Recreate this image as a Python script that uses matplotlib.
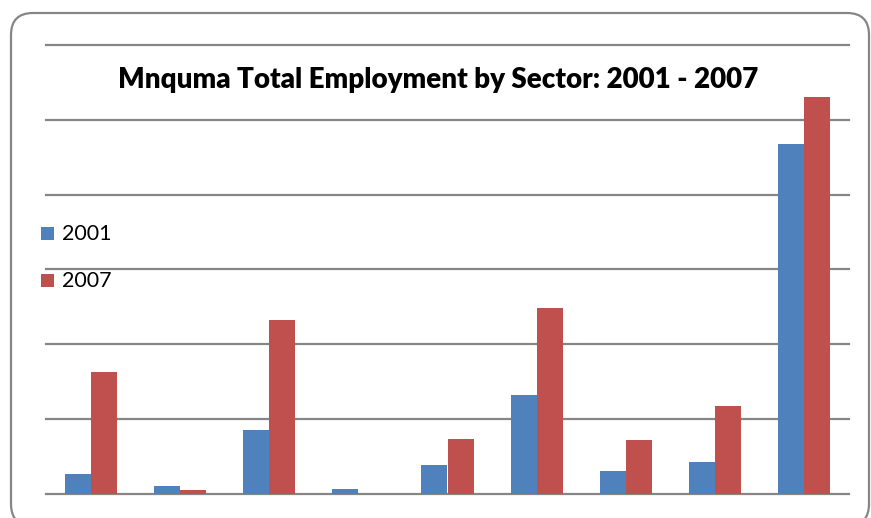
import matplotlib.pyplot as plt
import numpy as np
from matplotlib.patches import FancyBboxPatch, Rectangle
from matplotlib.transforms import IdentityTransform

plt.rcParams['font.family'] = ['Lato', 'DejaVu Sans']

# Data (gridlines every 5000)
sectors = ['Agriculture', 'Mining', 'Manufacturing', 'Electricity', 'Construction',
           'Trade', 'Transport', 'Finance', 'Community services']
emp_2001 = [1350, 530, 4270, 330, 1930, 6600, 1530, 2130, 23400]
emp_2007 = [8130, 270, 11600, 0, 3670, 12400, 3600, 5870, 26550]
years = ['2001', '2007']
colors = ['#4F81BD', '#C0504D']

W, H = 871, 518
fig = plt.figure(figsize=(W / 100, H / 100), dpi=100)

def fx(x):
    return x / W

def fy(y):
    return 1 - y / H

# plot area in pixels
left, right, top, bottom = 46, 849, 45, 494
ax = fig.add_axes([fx(left), fy(bottom), fx(right - left), (bottom - top) / H])

x = np.arange(len(sectors))
w = 0.292
ax.bar(x - w / 2, emp_2001, width=w, color=colors[0], zorder=3)
ax.bar(x + w / 2, emp_2007, width=w, color=colors[1], zorder=3)

ax.set_xlim(-0.5, len(sectors) - 0.5)
ax.set_ylim(0, 30000)
ax.set_yticks(np.arange(0, 30001, 5000))
ax.set_xticks([])
ax.tick_params(axis='y', length=0, labelleft=False)
ax.grid(axis='y', color='#868686', linewidth=1.6, zorder=1)
for gl in ax.get_ygridlines():
    gl.set_clip_on(False)
for s in ax.spines.values():
    s.set_visible(False)

# title
fig.text(fx(438), fy(88), 'Mnquma Total Employment by Sector: 2001 - 2007',
         ha='center', va='baseline', fontsize=20, fontweight='heavy', color='black')

# legend
for i, (lab, c) in enumerate(zip(years, colors)):
    y0 = 227 + i * 47
    fig.add_artist(Rectangle((fx(41), fy(y0 + 13)), fx(13), 13 / H,
                             transform=fig.transFigure, color=c, lw=0))
    fig.text(fx(62), fy(y0 + 13), lab, ha='left', va='baseline', fontsize=15.5)

# rounded chart border
border = FancyBboxPatch((11, -8), 858, H - 13 + 8,
                        boxstyle='round,pad=0,rounding_size=22',
                        transform=IdentityTransform(), fill=False,
                        edgecolor='#868686', linewidth=1.6)
fig.add_artist(border)

fig.savefig('out.png', dpi=100)
